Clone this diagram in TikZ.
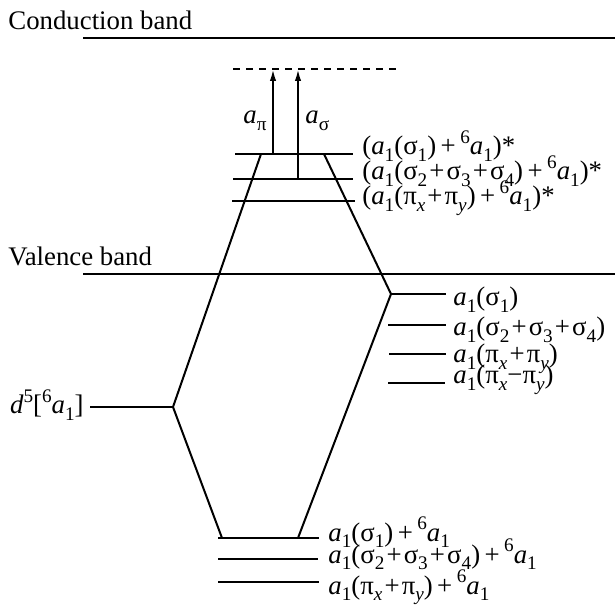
\documentclass[tikz,border=0pt]{standalone}
\usepackage{fontspec}
\setmainfont{Liberation Serif}
\usetikzlibrary{arrows.meta}
\newcommand{\sbs}[1]{\raisebox{-0.24em}{\fontsize{9.6}{10}\selectfont #1}}
\newcommand{\sps}[1]{\raisebox{0.42em}{\fontsize{9.6}{10}\selectfont #1}}
\newcommand{\ia}{\textit{a}}
\newcommand{\pl}{\hspace{0.08em}+\hspace{0.08em}}
\begin{document}
\begin{tikzpicture}[x=0.5pt,y=-0.5pt,
  lbl/.style={anchor=base west, inner sep=0pt, font=\fontsize{13.4}{16}\selectfont},
  lblr/.style={anchor=base east, inner sep=0pt, font=\fontsize{13.4}{16}\selectfont},
  lvl/.style={line width=1pt},
  conn/.style={line width=1pt},
  band/.style={line width=1pt},
  arr/.style={line width=1pt,-{Latex[length=6pt,width=3.2pt]}},
  dashlvl/.style={line width=0.9pt,dash pattern=on 3.5pt off 3pt}]
\useasboundingbox (0,0) rectangle (615,608);
% bands
\coordinate (cb1) at (83,38); \coordinate (cb2) at (615,38);
\coordinate (vb1) at (83,274); \coordinate (vb2) at (615,274);
\draw[band] (cb1) -- (cb2);
\draw[band] (vb1) -- (vb2);
\node[lbl] (cbt) at (8,30) {Conduction band};
\node[lbl] (vbt) at (8,266) {Valence band};
% dashed level
\coordinate (ds1) at (233,69); \coordinate (ds2) at (400,69);
\draw[dashlvl] (ds1) -- (ds2);
% top levels
\coordinate (t1a) at (235,154); \coordinate (t1b) at (353,154);
\coordinate (t2a) at (233,179); \coordinate (t2b) at (353,179);
\coordinate (t3a) at (232,201); \coordinate (t3b) at (355,201);
\draw[lvl] (t1a) -- (t1b);
\draw[lvl] (t2a) -- (t2b);
\draw[lvl] (t3a) -- (t3b);
% arrows
\coordinate (api0) at (273,154); \coordinate (api1) at (273,69);
\coordinate (asg0) at (298,179); \coordinate (asg1) at (298,69);
\draw[arr] (api0) -- (api1);
\draw[arr] (asg0) -- (asg1);
\node[lbl] (lapi) at (243,124) {\ia\sbs{π}};
\node[lbl] (lasg) at (305,124) {\ia\sbs{σ}};
% right levels
\coordinate (r1a) at (391,294); \coordinate (r1b) at (446,294);
\coordinate (r2a) at (388,325); \coordinate (r2b) at (446,325);
\coordinate (r3a) at (389,354); \coordinate (r3b) at (446,354);
\coordinate (r4a) at (388,383); \coordinate (r4b) at (445,383);
\draw[lvl] (r1a) -- (r1b);
\draw[lvl] (r2a) -- (r2b);
\draw[lvl] (r3a) -- (r3b);
\draw[lvl] (r4a) -- (r4b);
% d5 level
\coordinate (d5a) at (90,407); \coordinate (d5b) at (173,407);
\draw[lvl] (d5a) -- (d5b);
\node[lblr] (ld5) at (84,414) {\textit{d}\sps{5}[\sps{6}\ia\sbs{1}]};
% bottom levels
\coordinate (b1a) at (218,538); \coordinate (b1b) at (319,538);
\coordinate (b2a) at (218,559); \coordinate (b2b) at (318,559);
\coordinate (b3a) at (218,582); \coordinate (b3b) at (319,582);
\draw[lvl] (b1a) -- (b1b);
\draw[lvl] (b2a) -- (b2b);
\draw[lvl] (b3a) -- (b3b);
% correlation lines
\coordinate (TL) at (261,154); \coordinate (TR) at (324,154);
\coordinate (BL) at (222,538); \coordinate (BR) at (298,538);
\draw[conn] (TL) -- (d5b) -- (BL);
\draw[conn] (TR) -- (r1a) -- (BR);
% labels top
\node[lbl] (lt1) at (362,155) {(\ia\sbs{1}(σ\sbs{1})\,+\,\sps{6}\ia\sbs{1})*};
\node[lbl] (lt2) at (362,180) {(\ia\sbs{1}(σ\sbs{2}\pl σ\sbs{3}\pl σ\sbs{4})\,+\,\sps{6}\ia\sbs{1})*};
\node[lbl] (lt3) at (362,205) {(\ia\sbs{1}(π\sbs{\textit{x}}\pl π\sbs{\textit{y}})\,+\,\sps{6}\ia\sbs{1})*};
% labels right
\node[lbl] (lr1) at (453,306) {\ia\sbs{1}(σ\sbs{1})};
\node[lbl] (lr2) at (453,336) {\ia\sbs{1}(σ\sbs{2}\pl σ\sbs{3}\pl σ\sbs{4})};
\node[lbl] (lr3) at (453,363) {\ia\sbs{1}(π\sbs{\textit{x}}\pl π\sbs{\textit{y}})};
\node[lbl] (lr4) at (453,384) {\ia\sbs{1}(π\sbs{\textit{x}}−π\sbs{\textit{y}})};
% labels bottom
\node[lbl] (lb1) at (328,541) {\ia\sbs{1}(σ\sbs{1})\,+\,\sps{6}\ia\sbs{1}};
\node[lbl] (lb2) at (328,563) {\ia\sbs{1}(σ\sbs{2}\pl σ\sbs{3}\pl σ\sbs{4})\,+\,\sps{6}\ia\sbs{1}};
\node[lbl] (lb3) at (328,594) {\ia\sbs{1}(π\sbs{\textit{x}}\pl π\sbs{\textit{y}})\,+\,\sps{6}\ia\sbs{1}};
\end{tikzpicture}
\end{document}
